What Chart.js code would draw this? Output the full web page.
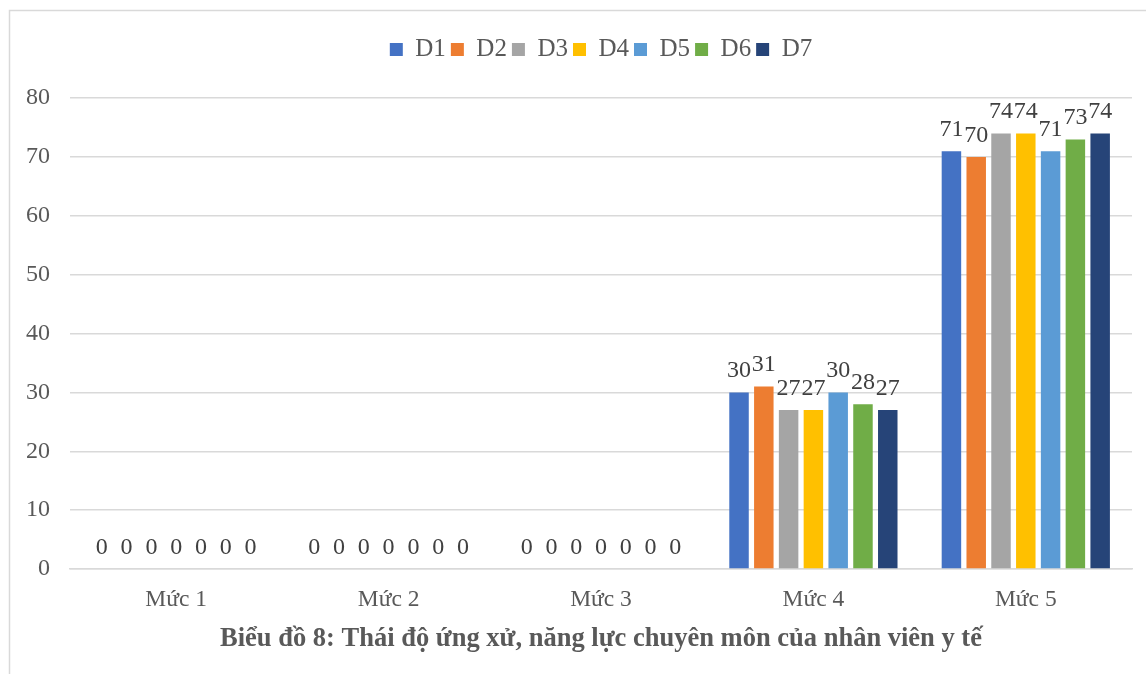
<!DOCTYPE html>
<html lang="vi">
<head>
<meta charset="utf-8">
<title>Biểu đồ 8</title>
<script src="https://cdn.jsdelivr.net/npm/chart.js@4/dist/chart.umd.min.js"></script>
<style>
  html, body { margin: 0; padding: 0; background: #ffffff; }
  #wrap { position: relative; width: 1146px; height: 674px; }
</style>
</head>
<body>
<div id="wrap"><canvas id="chart" width="1146" height="674"></canvas></div>
<script>
// Categories (x axis)
const categories = ['Mức 1', 'Mức 2', 'Mức 3', 'Mức 4', 'Mức 5'];

// Series values, one array per group
const seriesNames = ['D1', 'D2', 'D3', 'D4', 'D5', 'D6', 'D7'];
const d1 = [0, 0, 0, 30, 71];
const d2 = [0, 0, 0, 31, 70];
const d3 = [0, 0, 0, 27, 74];
const d4 = [0, 0, 0, 27, 74];
const d5 = [0, 0, 0, 30, 71];
const d6 = [0, 0, 0, 28, 73];
const d7 = [0, 0, 0, 27, 74];
const seriesColors = ['#4472C4', '#ED7D31', '#A5A5A5', '#FFC000', '#5B9BD5', '#70AD47', '#264478'];

// Y axis ticks
const yTicks = [0, 10, 20, 30, 40, 50, 60, 70, 80];

const chartTitle = 'Biểu đồ 8: Thái độ ứng xử, năng lực chuyên môn của nhân viên y tế';

const FONT = "'Liberation Serif', 'Times New Roman', serif";
const TEXT = '#595959';

const seriesValues = [d1, d2, d3, d4, d5, d6, d7];
const datasets = seriesNames.map((name, i) => ({
  label: name,
  data: seriesValues[i],
  backgroundColor: seriesColors[i],
  borderWidth: 0,
  categoryPercentage: 0.817,
  barPercentage: 0.786
}));

// Outer frame of the chart area (left and top edges)
const framePlugin = {
  id: 'frame',
  beforeDraw(chart) {
    const ctx = chart.ctx;
    ctx.save();
    ctx.fillStyle = '#ffffff';
    ctx.fillRect(0, 0, chart.width, chart.height);
    ctx.strokeStyle = '#d9d9d9';
    ctx.lineWidth = 1.5;
    ctx.beginPath();
    ctx.moveTo(9.5, chart.height + 5);
    ctx.lineTo(9.5, 10.5);
    ctx.lineTo(chart.width + 5, 10.5);
    ctx.stroke();
    ctx.restore();
  }
};

// Value labels above each bar
const valueLabels = {
  id: 'valueLabels',
  afterDatasetsDraw(chart) {
    const ctx = chart.ctx;
    ctx.save();
    ctx.font = '24px ' + FONT;
    ctx.fillStyle = '#404040';
    ctx.textAlign = 'center';
    ctx.textBaseline = 'alphabetic';
    chart.data.datasets.forEach((ds, di) => {
      const meta = chart.getDatasetMeta(di);
      meta.data.forEach((bar, idx) => {
        ctx.fillText(String(ds.data[idx]), bar.x, bar.y - 15.5);
      });
    });
    ctx.restore();
  }
};

new Chart(document.getElementById('chart'), {
  type: 'bar',
  data: { labels: categories, datasets },
  options: {
    responsive: false,
    animation: false,
    devicePixelRatio: 1,
    layout: { padding: { left: 0, right: 14, top: 32, bottom: 19 } },
    plugins: {
      legend: {
        position: 'top',
        fullSize: false,
        labels: {
          font: { family: FONT, size: 25 },
          color: TEXT,
          boxWidth: 13,
          boxHeight: 13,
          padding: 5
        }
      },
      // empty spacer between the legend and the plot
      subtitle: {
        display: true,
        position: 'top',
        weight: 500,
        text: '',
        font: { size: 1 },
        padding: { top: 0, bottom: 25 }
      },
      title: {
        display: true,
        position: 'bottom',
        fullSize: false,
        text: chartTitle,
        font: { family: FONT, size: 26.5, weight: 'bold' },
        color: TEXT,
        padding: { top: 0, bottom: 0 }
      },
      tooltip: { enabled: false }
    },
    scales: {
      x: {
        grid: { display: false },
        border: { display: true, color: '#d9d9d9', width: 1.5 },
        ticks: { font: { family: FONT, size: 23.5 }, color: TEXT, padding: 9 }
      },
      y: {
        min: 0,
        max: 80,
        afterBuildTicks(scale) { scale.ticks = yTicks.map(v => ({ value: v })); },
        afterFit(scale) { scale.width = 70; },
        grid: { color: '#d9d9d9', lineWidth: 1.5, drawTicks: false },
        border: { display: false },
        ticks: { font: { family: FONT, size: 24 }, color: TEXT, padding: 20 }
      }
    }
  },
  plugins: [framePlugin, valueLabels]
});
</script>
</body>
</html>
